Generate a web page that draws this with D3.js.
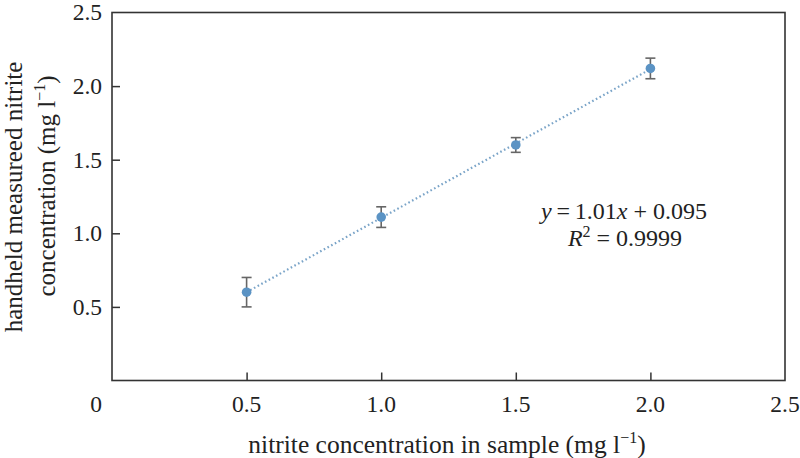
<!DOCTYPE html>
<html><head><meta charset="utf-8">
<script src="https://cdn.jsdelivr.net/npm/d3@7"></script>
<style>body{margin:0;background:#fff}svg{display:block}</style>
</head><body><svg id="c" width="800" height="458" font-family="'Liberation Serif', 'Times New Roman', Times, 'DejaVu Serif', serif"></svg>
<script>
const xVals = [0.5, 1.0, 1.5, 2.0];
const yVals = [0.60, 1.11, 1.60, 2.12];
const yErr = [0.10, 0.07, 0.05, 0.07];
const xTicks = [0.5, 1.0, 1.5, 2.0];
const xTickLabels = ["0.5", "1.0", "1.5", "2.0", "2.5"];
const yTicks = [0.5, 1.0, 1.5, 2.0];
const yTickLabels = ["0.5", "1.0", "1.5", "2.0", "2.5"];
const fitSlope = 1.01, fitIntercept = 0.095;

const svg = d3.select("#c");
const x = d3.scaleLinear().domain([0, 2.5]).range([112, 785]);
const y = d3.scaleLinear().domain([0, 2.5]).range([380.5, 12.5]);
const txt = "#222";
const fsTick = 23.5;

// frame
svg.append("rect").attr("x", x(0)).attr("y", y(2.5)).attr("width", x(2.5)-x(0)).attr("height", y(0)-y(2.5))
  .attr("fill", "none").attr("stroke", "#333").attr("stroke-width", 1.6);

// ticks (inward)
const xa = svg.append("g").attr("transform", `translate(0,${y(0)})`)
  .call(d3.axisBottom(x).tickValues(xTicks).tickSize(-8).tickFormat(""));
xa.select(".domain").remove();
xa.selectAll("line").attr("stroke", "#333").attr("stroke-width", 1.5);
const ya = svg.append("g").attr("transform", `translate(${x(0)},0)`)
  .call(d3.axisLeft(y).tickValues(yTicks).tickSize(-8).tickFormat(""));
ya.select(".domain").remove();
ya.selectAll("line").attr("stroke", "#333").attr("stroke-width", 1.5);

// tick labels
const xLabVals = [0.5, 1.0, 1.5, 2.0, 2.5];
svg.selectAll(".xl").data(xLabVals).enter().append("text")
  .attr("x", d => x(d)).attr("y", 412).attr("text-anchor", "middle").attr("fill", txt)
  .attr("font-size", fsTick).text((d, i) => xTickLabels[i]);
svg.selectAll(".yl").data([0.5, 1.0, 1.5, 2.0, 2.5]).enter().append("text")
  .attr("x", 102).attr("y", d => y(d) + 7.8).attr("text-anchor", "end").attr("fill", txt)
  .attr("font-size", fsTick).text((d, i) => yTickLabels[i]);
svg.append("text").attr("x", x(0) - 16).attr("y", 412).attr("text-anchor", "middle").attr("fill", txt)
  .attr("font-size", fsTick).text("0");

// fit line
svg.append("line")
  .attr("x1", x(xVals[0])).attr("y1", y(fitSlope * xVals[0] + fitIntercept))
  .attr("x2", x(xVals[3])).attr("y2", y(fitSlope * xVals[3] + fitIntercept))
  .attr("stroke", "#7aa4c8").attr("stroke-width", 2.2).attr("stroke-dasharray", "1.6,2.6");

// error bars
const eb = svg.selectAll(".eb").data(xVals).enter().append("g");
eb.append("line").attr("x1", d => x(d)).attr("x2", d => x(d))
  .attr("y1", (d, i) => y(yVals[i] + yErr[i])).attr("y2", (d, i) => y(yVals[i] - yErr[i]))
  .attr("stroke", "#666").attr("stroke-width", 1.6);
eb.append("line").attr("x1", d => x(d) - 5).attr("x2", d => x(d) + 5)
  .attr("y1", (d, i) => y(yVals[i] + yErr[i])).attr("y2", (d, i) => y(yVals[i] + yErr[i]))
  .attr("stroke", "#666").attr("stroke-width", 1.6);
eb.append("line").attr("x1", d => x(d) - 5).attr("x2", d => x(d) + 5)
  .attr("y1", (d, i) => y(yVals[i] - yErr[i])).attr("y2", (d, i) => y(yVals[i] - yErr[i]))
  .attr("stroke", "#666").attr("stroke-width", 1.6);

// points
svg.selectAll(".pt").data(xVals).enter().append("circle")
  .attr("cx", d => x(d)).attr("cy", (d, i) => y(yVals[i])).attr("r", 4.8)
  .attr("fill", "#5b93c4");

// equation
const eq = svg.append("text").attr("x", 624).attr("y", 219).attr("text-anchor", "middle").attr("font-size", 24).attr("fill", txt);
eq.append("tspan").attr("font-style", "italic").text("y");
eq.append("tspan").text("\u2009=\u20091.01");
eq.append("tspan").attr("font-style", "italic").text("x");
eq.append("tspan").text(" + 0.095");
const r2 = svg.append("text").attr("x", 625).attr("y", 246).attr("text-anchor", "middle").attr("font-size", 24).attr("fill", txt);
r2.append("tspan").attr("font-style", "italic").text("R");
r2.append("tspan").attr("font-size", 16).attr("dy", -9).text("2");
r2.append("tspan").attr("dy", 9).text(" = 0.9999");

// x title
const xt = svg.append("text").attr("x", 447).attr("y", 453).attr("text-anchor", "middle").attr("font-size", 25.5).attr("fill", txt);
xt.append("tspan").text("nitrite concentration in sample (mg l");
xt.append("tspan").attr("font-size", 16).attr("dy", -10).text("−1");
xt.append("tspan").attr("dy", 10).text(")");

// y title
svg.append("text").attr("transform", "translate(22,197) rotate(-90)").attr("text-anchor", "middle").attr("fill", txt)
  .attr("font-size", 25).text("handheld measureed nitrite");
const yt2 = svg.append("text").attr("transform", "translate(55,186) rotate(-90)").attr("text-anchor", "middle").attr("font-size", 25).attr("fill", txt);
yt2.append("tspan").text("concentration (mg l");
yt2.append("tspan").attr("font-size", 16).attr("dy", -10).text("−1");
yt2.append("tspan").attr("dy", 10).text(")");
</script></body></html>
